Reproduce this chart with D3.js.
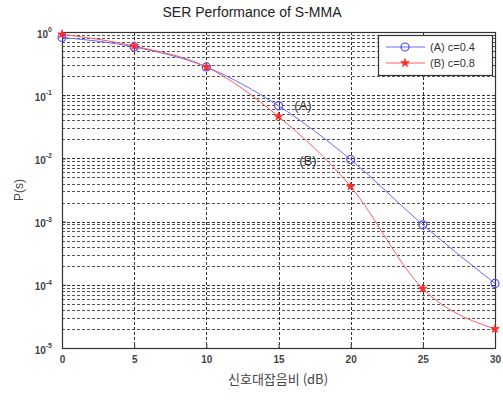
<!DOCTYPE html>
<html><head><meta charset="utf-8">
<script src="https://cdn.jsdelivr.net/npm/d3@7"></script>
<style>body{margin:0;background:#fff}svg{display:block}</style>
</head><body>
<script>
const snr = [0, 5, 10, 15, 20, 25, 30];
const serA = [0.82, 0.58, 0.28, 0.068, 0.0096, 0.00089, 0.000105];
const serB = [0.92, 0.60, 0.28, 0.046, 0.0036, 0.000087, 0.00002];
const xTicks = [0, 5, 10, 15, 20, 25, 30];
const yExps = [0, -1, -2, -3, -4, -5];
const seriesNames = ["(A) c=0.4", "(B) c=0.8"];
const title = "SER Performance of S-MMA";
const xLabel = "신호대잡음비 (dB)";
const yLabel = "P(s)";

const W = 503, H = 400;
const m = {l: 62, r: 8, t: 32, b: 52};
const svg = d3.select("body").append("svg").attr("width", W).attr("height", H)
  .style("font-family", "Arial, 'Liberation Sans', sans-serif");
const x = d3.scaleLinear().domain([0, 30]).range([m.l, W - m.r]);
const y = d3.scaleLog().domain([1e-5, 1]).range([H - m.b, m.t]);

const g = svg.append("g");
const minor = [];
for (let e = -5; e < 0; e++) for (let k = 2; k <= 9; k++) minor.push(k * Math.pow(10, e));
g.selectAll("line.minor").data(minor).join("line")
  .attr("x1", m.l).attr("x2", W - m.r)
  .attr("y1", d => Math.round(y(d)) + 0.5).attr("y2", d => Math.round(y(d)) + 0.5)
  .attr("stroke", "#555").attr("stroke-width", 1).attr("stroke-dasharray", "3,2");
g.selectAll("line.major").data(yExps.map(e => Math.pow(10, e))).join("line")
  .attr("x1", m.l).attr("x2", W - m.r)
  .attr("y1", d => Math.round(y(d)) + 0.5).attr("y2", d => Math.round(y(d)) + 0.5)
  .attr("stroke", "#333").attr("stroke-width", 1).attr("stroke-dasharray", "3,2");
g.selectAll("line.vx").data(xTicks).join("line")
  .attr("x1", d => Math.round(x(d)) + 0.5).attr("x2", d => Math.round(x(d)) + 0.5)
  .attr("y1", m.t).attr("y2", H - m.b)
  .attr("stroke", "#333").attr("stroke-width", 1).attr("stroke-dasharray", "3,2");

svg.append("rect").attr("x", m.l + 0.5).attr("y", m.t + 0.5)
  .attr("width", W - m.r - m.l).attr("height", H - m.b - m.t)
  .attr("fill", "none").attr("stroke", "#333").attr("stroke-width", 1.2);

const xAxis = svg.append("g").attr("transform", `translate(0,${H - m.b})`)
  .call(d3.axisBottom(x).tickValues(xTicks).tickSize(-4).tickPadding(8).tickFormat(d3.format("d")));
xAxis.select(".domain").remove();
xAxis.selectAll("line").attr("stroke", "#333");
xAxis.selectAll("text").attr("font-size", 10).attr("font-weight", "bold").attr("fill", "#444")
  .attr("font-family", "Arial, 'Liberation Sans', sans-serif");

const yAxis = svg.append("g").attr("transform", `translate(${m.l},0)`)
  .call(d3.axisLeft(y).tickValues(yExps.map(e => Math.pow(10, e))).tickSize(-4).tickPadding(10).tickFormat(() => ""));
yAxis.select(".domain").remove();
yAxis.selectAll("line").attr("stroke", "#333");
yAxis.selectAll(".tick").each(function(d) {
  const e = Math.round(Math.log10(d));
  const t = d3.select(this).select("text").attr("font-size", 10).attr("font-weight", "bold")
    .attr("fill", "#444").attr("font-family", "Arial, 'Liberation Sans', sans-serif").attr("x", -10).attr("dy", "0.5em");
  t.append("tspan").text("10");
  t.append("tspan").attr("font-size", 7).attr("dy", "-0.8em").text(String(e));
});

const line = d3.line().x((d, i) => x(snr[i])).y(d => y(d)).curve(d3.curveMonotoneX);
const colors = ["#6a6aff", "#ff5c5c"];
[serA, serB].forEach((s, k) => {
  svg.append("path").attr("d", line(s)).attr("fill", "none").attr("stroke", colors[k]).attr("stroke-width", 1);
});
svg.selectAll("circle.ma").data(serA).join("circle")
  .attr("cx", (d, i) => x(snr[i])).attr("cy", d => y(d)).attr("r", 4)
  .attr("fill", "none").attr("stroke", "#4a4aff").attr("stroke-width", 1.2);
const star = d3.symbol().type(d3.symbolStar).size(22);
svg.selectAll("path.mb").data(serB).join("path")
  .attr("transform", (d, i) => `translate(${x(snr[i])},${y(d)})`).attr("d", star())
  .attr("fill", "#ff2a2a").attr("stroke", "#ff2a2a").attr("stroke-width", 0.8);

svg.append("text").attr("x", 303).attr("y", 110).attr("text-anchor", "middle")
  .attr("font-size", 13).attr("fill", "#333").text("(A)");
svg.append("text").attr("x", 308).attr("y", 165).attr("text-anchor", "middle")
  .attr("font-size", 13).attr("fill", "#333").text("(B)");

const lg = svg.append("g");
lg.append("rect").attr("x", 378.5).attr("y", 35.5).attr("width", 114).attr("height", 40)
  .attr("fill", "#fff").attr("stroke", "#333").attr("stroke-width", 1.2);
[0, 1].forEach(k => {
  const yy = 47 + k * 16;
  lg.append("line").attr("x1", 386).attr("x2", 425).attr("y1", yy).attr("y2", yy)
    .attr("stroke", colors[k]).attr("stroke-width", 1);
  if (k === 0) lg.append("circle").attr("cx", 405).attr("cy", yy).attr("r", 4)
    .attr("fill", "none").attr("stroke", "#4a4aff").attr("stroke-width", 1.2);
  else lg.append("path").attr("transform", `translate(405,${yy})`).attr("d", star())
    .attr("fill", "#ff2a2a").attr("stroke", "#ff2a2a").attr("stroke-width", 0.8);
  lg.append("text").attr("x", 430).attr("y", yy + 4).attr("font-size", 11).attr("fill", "#333")
    .text(seriesNames[k]);
});

svg.append("text").attr("x", 252).attr("y", 17).attr("text-anchor", "middle")
  .attr("font-size", 14).attr("fill", "#222").text(title);
svg.append("text").attr("x", 278).attr("y", 384).attr("text-anchor", "middle")
  .attr("font-size", 13).attr("fill", "#444")
  .style("font-family", "'Noto Sans CJK KR', Arial, sans-serif").text(xLabel);
svg.append("text").attr("transform", "translate(23,190) rotate(-90)").attr("text-anchor", "middle")
  .attr("font-size", 12).attr("fill", "#444").text(yLabel);
</script>
</body></html>
